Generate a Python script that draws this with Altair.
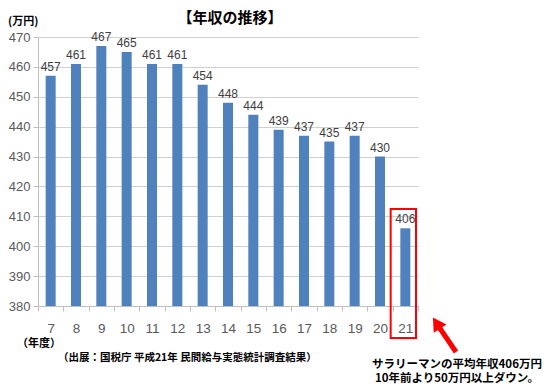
import altair as alt
import pandas as pd

years = ["7", "8", "9", "10", "11", "12", "13", "14", "15", "16", "17", "18", "19", "20", "21"]
income = [457, 461, 467, 465, 461, 461, 454, 448, 444, 439, 437, 435, 437, 430, 406]
y_ticks = [380, 390, 400, 410, 420, 430, 440, 450, 460, 470]

title_text = "【年収の推移】"
unit_text = "(万円)"
xunit_text = "（年度）"
source_text = "（出展：国税庁 平成21年 民間給与実態統計調査結果）"
note_lines = ["サラリーマンの平均年収406万円", "10年前より50万円以上ダウン。"]
highlight_year = "21"

df = pd.DataFrame({"year": years, "income": income})

W, H = 380, 269
JP = "Noto Sans CJK JP"
NUM = "Liberation Sans"

xscale = alt.Scale(domain=years, paddingInner=0, paddingOuter=0)
yscale = alt.Scale(domain=[380, 470], nice=False, zero=False)

x_axis = alt.Axis(labelAngle=0, tickBand="extent", tickSize=5, tickColor="#BFBFBF",
                  domainColor="#BFBFBF", labelFont=NUM, labelFontSize=13.5,
                  labelColor="#595959", labelPadding=10, grid=False, title=None)
y_axis = alt.Axis(values=y_ticks, tickSize=5, tickColor="#BFBFBF", domainColor="#BFBFBF",
                  grid=True, gridColor="#D0D0D0", labelFont=NUM, labelFontSize=13,
                  labelColor="#595959", labelPadding=3, labelOverlap=False, title=None)

X = alt.X("year:O", scale=xscale, sort=years, axis=x_axis)
Y = alt.Y("income:Q", scale=yscale, axis=y_axis)

base = alt.Chart(df)

bars = base.mark_bar(size=10, color="#4F81BD").encode(
    x=X, y=Y, y2=alt.datum(380),
)

labels = base.mark_text(dy=-9, font=NUM, fontSize=12, color="#404040").encode(
    x=X, y=Y, text=alt.Text("income:Q"),
)

box = alt.Chart(pd.DataFrame({"year": [highlight_year]})).mark_rect(
    fill=None, stroke="#FF0000", strokeWidth=2, xOffset=-2, x2Offset=2
).encode(
    x=X,
    y=alt.value(172),
    y2=alt.value(301),
)

arrow_shaft = alt.Chart(pd.DataFrame({"a": [0]})).mark_rule(color="#FF0000", strokeWidth=5).encode(
    x=alt.value(418), y=alt.value(315), x2=alt.value(401), y2=alt.value(290)
)
arrow_head = alt.Chart(pd.DataFrame({"a": [0]})).mark_point(
    shape="triangle-up", filled=True, color="#FF0000", size=230, angle=327, opacity=1
).encode(x=alt.value(398.5), y=alt.value(286))

def txt(t, x, y, size, align="left", bold=True, color="#000000"):
    return alt.Chart(pd.DataFrame({"t": [t]})).mark_text(
        font=JP, fontSize=size, fontWeight="bold" if bold else "normal",
        align=align, baseline="middle", color=color
    ).encode(x=alt.value(x), y=alt.value(y), text="t:N")

texts = [
    txt(title_text, 192, -19, 15, align="center"),
    txt(unit_text, -30, -15, 11),
    txt(xunit_text, -21, 307, 11),
    txt(source_text, 20, 321, 10.5),
    txt(note_lines[0], 419, 328, 11.5, align="center"),
    txt(note_lines[1], 419, 342, 11.5, align="center"),
]

chart = alt.layer(bars, labels, box, arrow_shaft, arrow_head, *texts).properties(
    width=W, height=H,
    autosize=alt.AutoSizeParams(type="none"),
    padding={"left": 30, "top": 29, "right": 134, "bottom": 80},
).configure_view(stroke=None)

chart.save("out.html", embed_options={"renderer": "svg", "actions": False})
